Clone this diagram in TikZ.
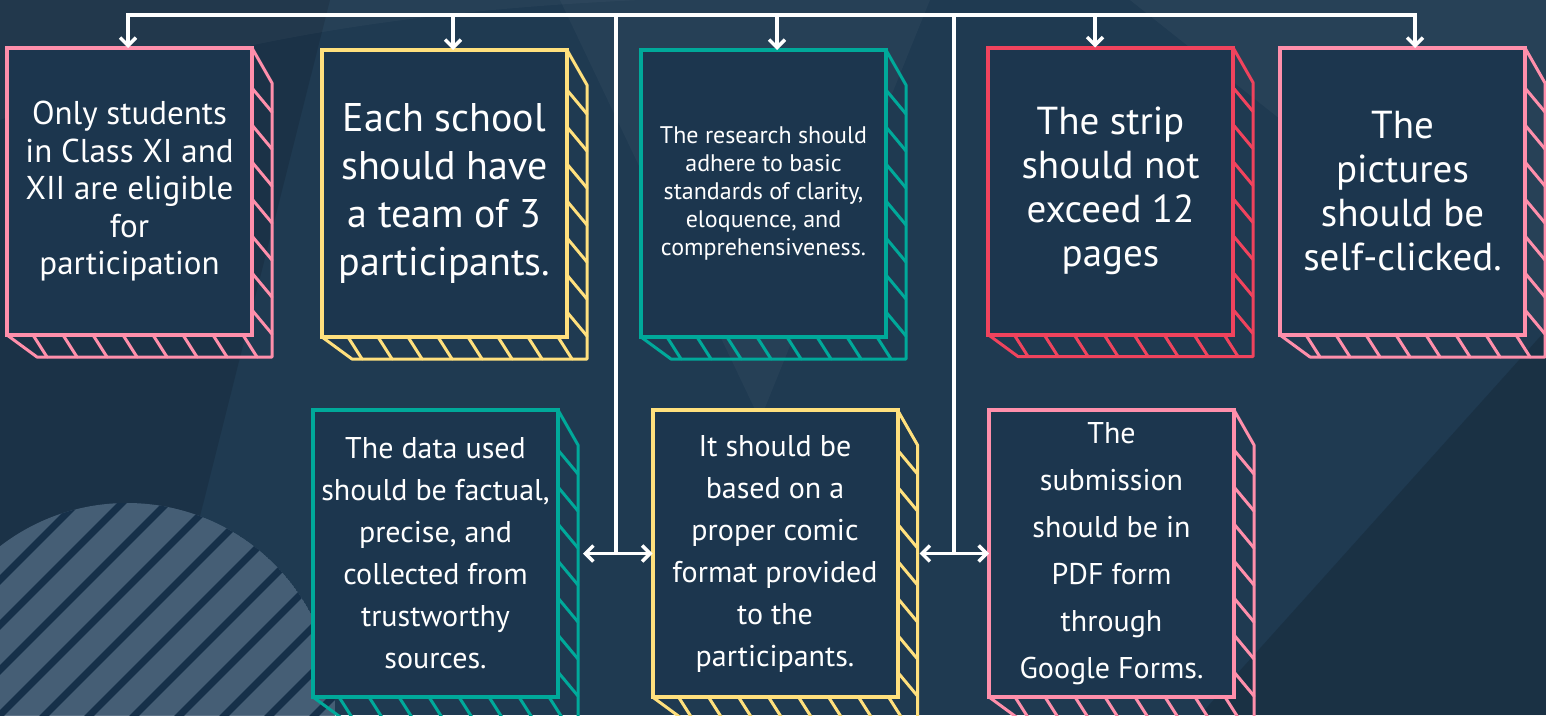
\documentclass[tikz,border=0pt]{standalone}
\usepackage{fontspec}
\setmainfont{PT Sans}
\usetikzlibrary{arrows.meta,calc,positioning}

\definecolor{bgblue}{HTML}{1F3A51}
\definecolor{cardfill}{HTML}{1C364E}
\definecolor{rosepink}{HTML}{FF8FAB}
\definecolor{sunyellow}{HTML}{FFE07D}
\definecolor{seateal}{HTML}{00A99A}
\definecolor{cherryred}{HTML}{F0435D}
\definecolor{discgrey}{HTML}{4A637A}
\definecolor{stripeblue}{HTML}{163049}

\tikzset{
    card/.style ={rectangle, draw, line width=4pt, fill=cardfill, text=white,
                  align=center, inner sep=0pt, outer sep=0pt,
                  minimum width=245pt, minimum height=287pt},
    hatch/.style={line width=3pt, line cap=round, line join=round},
    link/.style ={draw=white, line width=3.5pt},
    down/.style ={link, -{Straight Barb[length=8pt,width=16pt]}},
    twoway/.style={link, {Straight Barb[length=8pt,width=16pt]}-{Straight Barb[length=8pt,width=16pt]}},
    small/.style={font=\fontsize{24}{28}\selectfont},
    medium/.style={font=\fontsize{30}{42}\selectfont},
    large/.style={font=\fontsize{33}{37.5}\selectfont},
    huge/.style ={font=\fontsize{39}{44}\selectfont}
}

% side and floor of a card, with their hatching
\newcommand{\cardside}[2]{%
    \draw[hatch, #2] (#1.north east) -- ++(20,35)
        -- ($(#1.south east)+(20,22)$) -- ($(#1.south west)+(30,22)$) -- (#1.south west);
    \foreach \d in {40,77,...,262}
        \draw[hatch, #2] ($(#1.north east)+(0,\d)$) -- ++(20,24);
    \foreach \d in {26,56,...,236}
        \draw[hatch, #2] ($(#1.south west)+(\d,0)$) -- ++(14,22);
}

\begin{document}
\begin{tikzpicture}[x=1pt, y=-1pt]

    \path[use as bounding box] (0,0) rectangle (1546,715);
    \clip (0,0) rectangle (1546,715);

    % background
    \fill[bgblue] (0,0) rectangle (1546,715);
    \fill[black, opacity=0.12] (0,0) -- (330,0) -- (150,715) -- (0,715) -- cycle;
    \fill[white, opacity=0.03] (560,0) -- (930,0) -- (760,420) -- cycle;
    \fill[white, opacity=0.04] (1130,0) -- (1546,0) -- (1546,330) -- cycle;
    \fill[black, opacity=0.15] (1546,330) -- (1546,715) -- (1200,715) -- cycle;
    \fill[white, opacity=0.03] (0,120) .. controls (200,40) and (420,10) .. (640,0) -- (0,0) -- cycle;

    % striped disc
    \begin{scope}
        \clip (127,711) circle (208);
        \fill[discgrey, opacity=0.9] (127,711) circle (208);
        \foreach \c in {130,175,...,1100}
            \draw[stripeblue, line width=7pt] (\c-800,800) -- (\c,0);
    \end{scope}

    % cards, top row
    \node[card, draw=rosepink, large] (only) at (129.5,191.5)
        {Only students\\in Class XI and\\XII are eligible\\for\\participation};
    \node[card, draw=sunyellow, font=\fontsize{40}{48}\selectfont] (team) at (444.5,193.5)
        {Each school\\should have\\a team of 3\\participants.};
    \node[card, draw=seateal, small] (research) at (763.5,193.5)
        {The research should\\adhere to basic\\standards of clarity,\\eloquence, and\\comprehensiveness.};
    \node[card, draw=cherryred, huge] (strip) at (1110.5,191)
        {The strip\\should not\\exceed 12\\pages};
    \node[card, draw=rosepink, huge] (pics) at (1402.5,191.5)
        {The\\pictures\\should be\\self-clicked.};

    % cards, bottom row
    \node[card, draw=seateal, medium] (data) at (435.5,553.5)
        {The data used\\should be factual,\\precise, and\\collected from\\trustworthy\\sources.};
    \node[card, draw=sunyellow, medium] (comic) at (775,553.5)
        {It should be\\based on a\\proper comic\\format provided\\to the\\participants.};
    \node[card, draw=rosepink, medium, font=\fontsize{30}{47}\selectfont] (submit) at (1111.5,553.5)
        {The\\submission\\should be in\\PDF form\\through\\Google Forms.};

    \cardside{only}{rosepink}
    \cardside{team}{sunyellow}
    \cardside{research}{seateal}
    \cardside{strip}{cherryred}
    \cardside{pics}{rosepink}
    \cardside{data}{seateal}
    \cardside{comic}{sunyellow}
    \cardside{submit}{rosepink}

    % top bar
    \coordinate (b1) at (128,15);
    \coordinate (b2) at (453,15);
    \coordinate (b3) at (777,15);
    \coordinate (b4) at (1095,15);
    \coordinate (b5) at (1415,15);
    \coordinate (t1) at (616,15);
    \coordinate (t2) at (954,15);

    \draw[link, line cap=rect] (b1) -- (b5);
    \draw[down] (b1) -- (b1 |- only.north);
    \draw[down] (b2) -- (b2 |- team.north);
    \draw[down] (b3) -- (b3 |- research.north);
    \draw[down] (b4) -- (b4 |- strip.north);
    \draw[down] (b5) -- (b5 |- pics.north);

    % trunks to the bottom row
    \draw[link] (t1) -- (t1 |- comic.west);
    \draw[link] (t2) -- (t2 |- comic.west);
    \draw[twoway] ($(data.east)+(25,0)$) -- (comic.west);
    \draw[twoway] ($(comic.east)+(22,0)$) -- (submit.west);

\end{tikzpicture}
\end{document}
